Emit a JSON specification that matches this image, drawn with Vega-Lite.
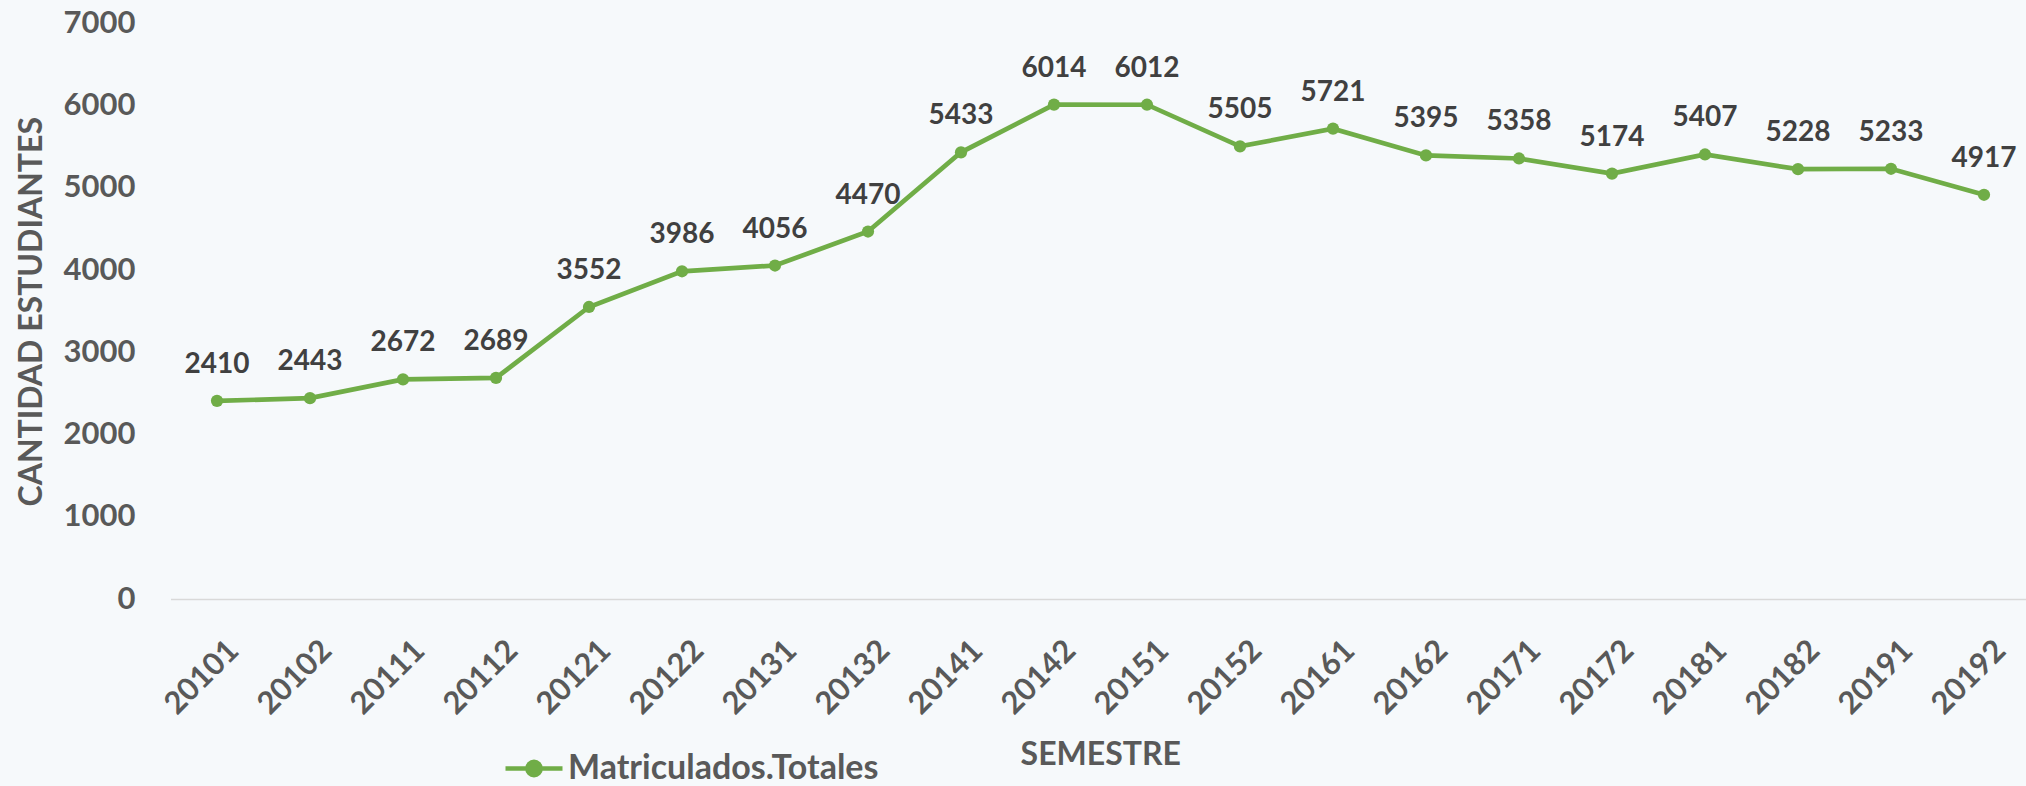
{
  "$schema": "https://vega.github.io/schema/vega-lite/v6.json",
  "autosize": {"type": "none"},
  "width": 1860,
  "height": 575.5,
  "padding": {"left": 170.5, "top": 23.5, "right": 0, "bottom": 187},
  "background": "#f6f9fb",
  "config": {
    "font": "Lato",
    "view": {"stroke": null},
    "axis": {"grid": false, "ticks": false}
  },
  "data": {
    "values": [
      {"semestre": "20101", "matriculados": 2410, "serie": "Matriculados.Totales"},
      {"semestre": "20102", "matriculados": 2443, "serie": "Matriculados.Totales"},
      {"semestre": "20111", "matriculados": 2672, "serie": "Matriculados.Totales"},
      {"semestre": "20112", "matriculados": 2689, "serie": "Matriculados.Totales"},
      {"semestre": "20121", "matriculados": 3552, "serie": "Matriculados.Totales"},
      {"semestre": "20122", "matriculados": 3986, "serie": "Matriculados.Totales"},
      {"semestre": "20131", "matriculados": 4056, "serie": "Matriculados.Totales"},
      {"semestre": "20132", "matriculados": 4470, "serie": "Matriculados.Totales"},
      {"semestre": "20141", "matriculados": 5433, "serie": "Matriculados.Totales"},
      {"semestre": "20142", "matriculados": 6014, "serie": "Matriculados.Totales"},
      {"semestre": "20151", "matriculados": 6012, "serie": "Matriculados.Totales"},
      {"semestre": "20152", "matriculados": 5505, "serie": "Matriculados.Totales"},
      {"semestre": "20161", "matriculados": 5721, "serie": "Matriculados.Totales"},
      {"semestre": "20162", "matriculados": 5395, "serie": "Matriculados.Totales"},
      {"semestre": "20171", "matriculados": 5358, "serie": "Matriculados.Totales"},
      {"semestre": "20172", "matriculados": 5174, "serie": "Matriculados.Totales"},
      {"semestre": "20181", "matriculados": 5407, "serie": "Matriculados.Totales"},
      {"semestre": "20182", "matriculados": 5228, "serie": "Matriculados.Totales"},
      {"semestre": "20191", "matriculados": 5233, "serie": "Matriculados.Totales"},
      {"semestre": "20192", "matriculados": 4917, "serie": "Matriculados.Totales"}
    ]
  },
  "encoding": {
    "x": {
      "field": "semestre",
      "type": "ordinal",
      "sort": null,
      "scale": {"type": "point", "padding": 0.5},
      "axis": {
        "title": "SEMESTRE",
        "titleFontSize": 32,
        "titleFontWeight": "bold",
        "titleColor": "#595959",
        "titleX": 929.75,
        "titleY": 155,
        "titleBaseline": "middle",
        "titleAlign": "center",
        "labelAngle": -45,
        "labelFontSize": 31,
        "labelFontWeight": "bold",
        "labelColor": "#595959",
        "labelPadding": 36,
        "labelOffset": 6,
        "domainColor": "#d9d9d9",
        "domainWidth": 1.5
      }
    },
    "y": {
      "field": "matriculados",
      "type": "quantitative",
      "scale": {"domain": [0, 7000], "nice": false},
      "axis": {
        "title": "CANTIDAD ESTUDIANTES",
        "titleFontSize": 32,
        "titleFontWeight": "bold",
        "titleColor": "#595959",
        "titleX": -139,
        "titleY": 287.75,
        "titleAngle": -90,
        "titleAlign": "center",
        "titleBaseline": "middle",
        "values": [0, 1000, 2000, 3000, 4000, 5000, 6000, 7000],
        "format": "d",
        "labelFontSize": 31,
        "labelFontWeight": "bold",
        "labelColor": "#595959",
        "labelPadding": 35.5,
        "domain": false
      }
    }
  },
  "layer": [
    {
      "mark": {"type": "line", "strokeWidth": 4.7},
      "encoding": {
        "color": {
          "field": "serie",
          "type": "nominal",
          "scale": {"range": ["#70ad47"]},
          "legend": {
            "title": null,
            "orient": "none",
            "legendX": 332.5,
            "legendY": 714,
            "padding": 0,
            "symbolType": "M-1,0L1,0M-0.23,0A0.23,0.23,0,1,1,0.23,0A0.23,0.23,0,1,1,-0.23,0Z",
            "symbolSize": 3249,
            "labelFontSize": 34,
            "labelFontWeight": "bold",
            "labelColor": "#595959",
            "labelOffset": 3,
            "labelLimit": 0,
            "encode": {
              "symbols": {
                "update": {
                  "fill": {"value": "#70ad47"},
                  "stroke": {"value": "#70ad47"},
                  "strokeWidth": {"value": 4.7},
                  "opacity": {"value": 1}
                }
              }
            }
          }
        }
      }
    },
    {
      "mark": {"type": "point", "filled": true, "size": 150, "opacity": 1, "color": "#70ad47"}
    },
    {
      "mark": {"type": "text", "dy": -28, "baseline": "alphabetic", "align": "center", "fontSize": 28, "fontWeight": "bold", "color": "#404040"},
      "encoding": {"text": {"field": "matriculados", "type": "quantitative", "format": "d"}}
    }
  ]
}
